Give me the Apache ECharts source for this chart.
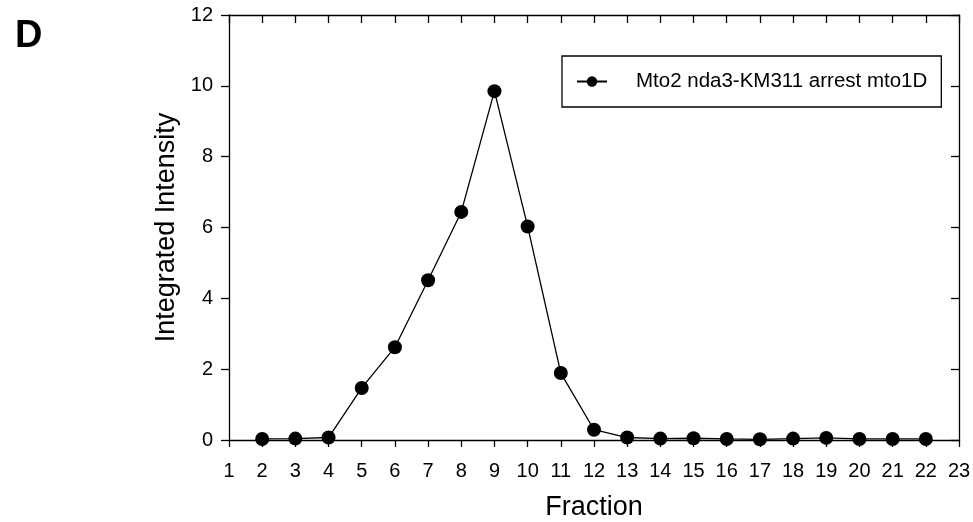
<!DOCTYPE html>
<html>
<head>
<meta charset="utf-8">
<script src="https://cdn.jsdelivr.net/npm/echarts@6/dist/echarts.min.js"></script>
<style>
  html, body { margin: 0; padding: 0; background: #fff; }
  #main { width: 973px; height: 522px; }
</style>
</head>
<body>
<div id="main"></div>
<script>
// fraction numbers and measured intensity
var fractions = [2, 3, 4, 5, 6, 7, 8, 9, 10, 11, 12, 13, 14, 15, 16, 17, 18, 19, 20, 21, 22];
var intensity = [0.03, 0.04, 0.07, 1.47, 2.62, 4.51, 6.44, 9.85, 6.03, 1.89, 0.29, 0.07, 0.04, 0.05, 0.03, 0.02, 0.04, 0.06, 0.03, 0.03, 0.03];
var seriesName = 'Mto2 nda3-KM311 arrest mto1D';

var font = 'Liberation Sans, Arial, sans-serif';
var points = [];
fractions.forEach(function (f, i) {
  points.push([f, intensity[i]]);
});

var chart = echarts.init(document.getElementById('main'), null, { renderer: 'canvas' });
var axisLine = { show: true, onZero: false, lineStyle: { color: '#000', width: 1.3 } };
var tickStyle = { color: '#000', width: 1.3 };

var option = {
  backgroundColor: '#fff',
  animation: false,
  title: {
    text: 'D',
    left: 10,
    top: 13,
    textStyle: { fontFamily: font, fontSize: 38, fontWeight: 'bold', color: '#000' }
  },
  grid: { left: 229, right: 14, top: 15, bottom: 82, containLabel: false, outerBoundsMode: 'none' },
  legend: {
    left: 562,
    top: 56,
    data: [seriesName],
    padding: [15, 14, 15, 14],
    borderColor: '#000',
    borderWidth: 1.3,
    itemWidth: 30,
    itemHeight: 13,
    textStyle: { fontFamily: font, fontSize: 20.5, color: '#000', padding: [0, 0, 0, 24] }
  },
  xAxis: [
    {
      type: 'value',
      position: 'bottom',
      min: 1,
      max: 23,
      interval: 1,
      name: 'Fraction',
      nameLocation: 'middle',
      nameGap: 54,
      nameTextStyle: { fontFamily: font, fontSize: 27, color: '#000' },
      axisLine: axisLine,
      axisTick: { show: true, inside: false, length: 7, lineStyle: tickStyle },
      axisLabel: { fontFamily: font, fontSize: 20, color: '#000', margin: 21 },
      splitLine: { show: false }
    },
    {
      type: 'value',
      position: 'top',
      min: 1,
      max: 23,
      interval: 1,
      axisLine: axisLine,
      axisTick: { show: true, inside: true, length: 8, lineStyle: tickStyle },
      axisLabel: { show: false },
      splitLine: { show: false }
    }
  ],
  yAxis: [
    {
      type: 'value',
      position: 'left',
      min: 0,
      max: 12,
      interval: 2,
      name: 'Integrated Intensity',
      nameLocation: 'middle',
      nameGap: 42,
      nameTextStyle: { fontFamily: font, fontSize: 27, color: '#000' },
      axisLine: axisLine,
      axisTick: { show: true, inside: false, length: 8, lineStyle: tickStyle },
      axisLabel: { fontFamily: font, fontSize: 20, color: '#000', margin: 16 },
      splitLine: { show: false }
    },
    {
      type: 'value',
      position: 'right',
      min: 0,
      max: 12,
      interval: 2,
      axisLine: axisLine,
      axisTick: { show: true, inside: true, length: 8, lineStyle: tickStyle },
      axisLabel: { show: false },
      splitLine: { show: false }
    }
  ],
  series: [
    {
      name: seriesName,
      type: 'line',
      xAxisIndex: 0,
      yAxisIndex: 0,
      data: points,
      symbol: 'circle',
      symbolSize: 14,
      itemStyle: { color: '#000' },
      lineStyle: { color: '#000', width: 1.3 }
    }
  ]
};
chart.setOption(option);
</script>
</body>
</html>
